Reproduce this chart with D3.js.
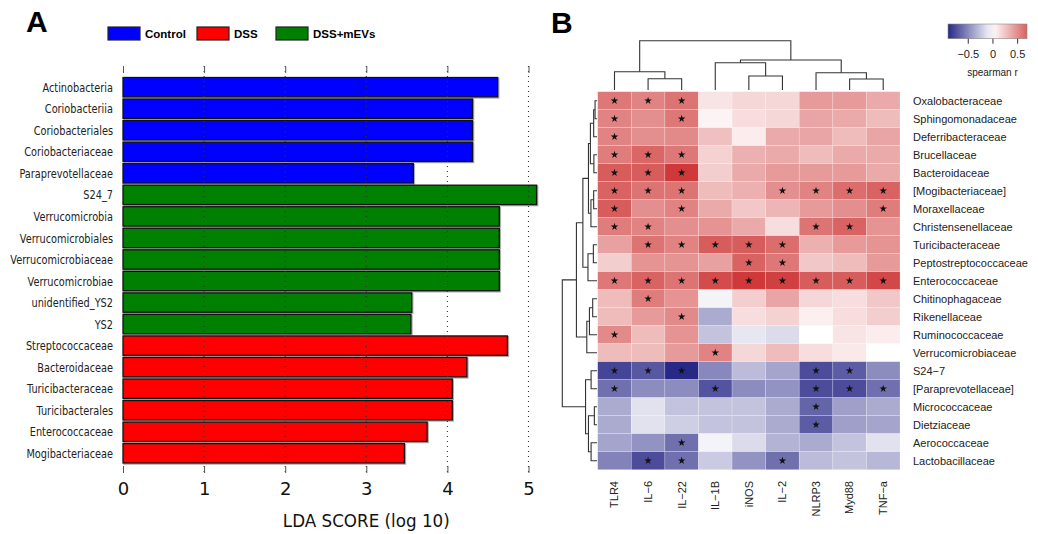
<!DOCTYPE html>
<html>
<head>
<meta charset="utf-8">
<script src="https://cdn.jsdelivr.net/npm/d3@7"></script>
<style>
body{margin:0;background:#fff;}
</style>
</head>
<body>
<div id="chart"></div>
<script>
// ---- panel A : LEfSe LDA scores ----
var ldaTaxa = ["Actinobacteria","Coriobacteriia","Coriobacteriales","Coriobacteriaceae","Paraprevotellaceae",
    "S24_7","Verrucomicrobia","Verrucomicrobiales","Verrucomicrobiaceae","Verrucomicrobiae","unidentified_YS2","YS2",
    "Streptococcaceae","Bacteroidaceae","Turicibacteraceae","Turicibacterales","Enterococcaceae","Mogibacteriaceae"];
var ldaScores = [4.62,4.31,4.31,4.31,3.58,5.10,4.64,4.64,4.64,4.64,3.56,3.55,4.74,4.24,4.06,4.06,3.75,3.47];
var ldaGroups = ["Control","Control","Control","Control","Control",
    "DSS+mEVs","DSS+mEVs","DSS+mEVs","DSS+mEVs","DSS+mEVs","DSS+mEVs","DSS+mEVs",
    "DSS","DSS","DSS","DSS","DSS","DSS"];
var groupNames = ["Control","DSS","DSS+mEVs"];
var groupColors = ["#0000ff","#ff0000","#008000"];
var ldaTicks = [0,1,2,3,4,5];

// ---- panel B : spearman heatmap ----
var families = ["Oxalobacteraceae","Sphingomonadaceae","Deferribacteraceae","Brucellaceae","Bacteroidaceae",
    "[Mogibacteriaceae]","Moraxellaceae","Christensenellaceae","Turicibacteraceae","Peptostreptococcaceae",
    "Enterococcaceae","Chitinophagaceae","Rikenellaceae","Ruminococcaceae","Verrucomicrobiaceae",
    "S24\u22127","[Paraprevotellaceae]","Micrococcaceae","Dietziaceae","Aerococcaceae","Lactobacillaceae"];
var markers = ["TLR4","IL\u22126","IL\u221222","IL\u22121B","iNOS","IL\u22122","NLRP3","Myd88","TNF\u2212a"];
var spearman = [
    [0.60,0.55,0.62,0.12,0.18,0.18,0.45,0.45,0.38],
    [0.55,0.50,0.60,0.05,0.15,0.18,0.40,0.38,0.30],
    [0.55,0.50,0.52,0.28,0.08,0.38,0.40,0.30,0.40],
    [0.58,0.68,0.60,0.20,0.35,0.38,0.30,0.38,0.38],
    [0.72,0.72,0.88,0.22,0.38,0.45,0.45,0.45,0.38],
    [0.70,0.62,0.62,0.30,0.35,0.50,0.55,0.65,0.70],
    [0.72,0.50,0.55,0.38,0.25,0.33,0.45,0.50,0.58],
    [0.58,0.55,0.50,0.48,0.38,0.15,0.62,0.70,0.48],
    [0.42,0.62,0.55,0.72,0.72,0.65,0.35,0.45,0.48],
    [0.22,0.48,0.48,0.42,0.70,0.60,0.25,0.30,0.45],
    [0.60,0.70,0.62,0.80,0.88,0.85,0.72,0.72,0.82],
    [0.30,0.58,0.48,-0.05,0.22,0.40,0.18,0.15,0.25],
    [0.30,0.45,0.52,-0.35,0.15,0.20,0.07,0.15,0.22],
    [0.52,0.30,0.48,-0.25,-0.10,-0.15,0.00,0.12,0.08],
    [0.30,0.30,0.45,0.55,0.18,0.30,0.15,0.10,0.00],
    [-0.78,-0.70,-0.90,-0.50,-0.28,-0.38,-0.75,-0.68,-0.48],
    [-0.60,-0.48,-0.48,-0.72,-0.48,-0.45,-0.75,-0.75,-0.60],
    [-0.35,-0.12,-0.25,-0.25,-0.25,-0.35,-0.65,-0.40,-0.35],
    [-0.35,-0.12,-0.20,-0.25,-0.25,-0.35,-0.68,-0.40,-0.38],
    [-0.38,-0.45,-0.60,-0.05,-0.15,-0.32,-0.35,-0.25,-0.12],
    [-0.52,-0.75,-0.60,-0.22,-0.45,-0.60,-0.28,-0.25,-0.30]
];
// 1 = significant (star)
var signif = ["111000000","101000000","100000000","111000000","111000000","111001111","101000001",
    "110000110","011111000","000011000","111111111","010000000","001000000","100000000","000100000",
    "111000110","100100111","000000100","000000100","001000000","011001000"];
// dendrograms: [height, left, right], leaves are row / column indexes
var rowTree = [1,
    [0.593,
        [0.407,
            [0.246, [0.19, [0.096, [0.056,0,1], 2], [0.09,3,4]], [0.175, [0.096,5,6], 7]],
            [0.26, [0.105,8,9], 10]],
        [0.294, [0.218, [0.124,11,12], 13], 14]],
    [0.33, [0.17,15,16], [0.246, [0.076,17,18], [0.17,19,20]]]];
var colTree = [1, [0.371, 0, [0.229,1,2]], [0.608, [0.554, 3, [0.284,4,5]], [0.351, 6, [0.223,7,8]]]];
var legendTicks = [-0.5,0,0.5];

var width = 1038, height = 534;
var svg = d3.select("#chart").append("svg")
    .attr("width",width)
    .attr("height",height)
    .style("font-family","'Liberation Sans', Arial, sans-serif");

// panel letters
svg.append("text").attr("x",26).attr("y",32).attr("font-size",30).attr("font-weight","bold").text("A");
svg.append("text").attr("x",551).attr("y",33).attr("font-size",30).attr("font-weight","bold").text("B");

// ===== panel A =====
var xA = d3.scaleLinear().domain([0,5]).range([123,528.5]);
var yA = d3.scaleBand().domain(ldaTaxa).range([77.5,463]).paddingInner(0.1);
var colorA = d3.scaleOrdinal().domain(groupNames).range(groupColors);

var legA = svg.append("g").selectAll("g")
    .data(groupNames)
    .enter().append("g")
    .attr("transform",(d,i)=>"translate("+[108,197,276][i]+",27)");
legA.append("rect").attr("width",32).attr("height",13)
    .attr("fill",d=>colorA(d)).attr("stroke","#222").attr("stroke-width",1.2);
legA.append("text").attr("x",37).attr("y",10.5).attr("font-size",11.5).attr("font-weight","bold").text(d=>d);

var bars = svg.append("g").selectAll("g")
    .data(ldaTaxa)
    .enter().append("g");
bars.append("rect")
    .attr("x",xA(0)+1).attr("y",d=>yA(d)+1)
    .attr("width",(d,i)=>xA(ldaScores[i])-xA(0))
    .attr("height",yA.bandwidth())
    .attr("fill","none").attr("stroke","#aaa").attr("stroke-width",1.5);
bars.append("rect")
    .attr("x",xA(0)).attr("y",d=>yA(d))
    .attr("width",(d,i)=>xA(ldaScores[i])-xA(0))
    .attr("height",yA.bandwidth())
    .attr("fill",(d,i)=>colorA(ldaGroups[i]))
    .attr("stroke","#111").attr("stroke-width",1.3);
// labels are squeezed sideways like the source figure
bars.append("text")
    .attr("transform",d=>"translate(113,"+(yA(d)+yA.bandwidth()/2)+")scale(0.75,1)")
    .attr("dy",".35em").attr("text-anchor","end")
    .attr("font-family","'DejaVu Sans',sans-serif")
    .attr("font-size",13).attr("fill","#222")
    .text(d=>d);

// dotted grid over the bars
svg.append("g").selectAll("line")
    .data(ldaTicks.slice(1))
    .enter().append("line")
    .attr("x1",d=>xA(d)).attr("x2",d=>xA(d))
    .attr("y1",66).attr("y2",472)
    .attr("stroke","#333").attr("stroke-width",1.1).attr("stroke-dasharray","1,4");

var axTop = svg.append("g").attr("transform","translate(0,73)")
    .call(d3.axisTop(xA).tickValues(ldaTicks).tickSize(7).tickFormat(""));
var axBot = svg.append("g").attr("transform","translate(0,466)")
    .call(d3.axisBottom(xA).tickValues(ldaTicks).tickSize(7).tickPadding(9).tickFormat(d3.format("d")));
[axTop,axBot].forEach(function(a){
    a.select(".domain").remove();
    a.selectAll(".tick line").attr("stroke","#555");
});
axBot.selectAll(".tick text")
    .attr("font-family","'DejaVu Sans',sans-serif")
    .attr("font-size",18).attr("fill","#111");
svg.append("text")
    .attr("transform","translate("+xA(3)+",527)scale(0.93,1)")
    .attr("text-anchor","middle")
    .attr("font-family","'DejaVu Sans',sans-serif").attr("font-size",18).attr("fill","#111")
    .text("LDA SCORE (log 10)");

// ===== panel B =====
var xB = d3.scaleBand().domain(d3.range(markers.length)).range([597.7,900]);
var yB = d3.scaleBand().domain(d3.range(families.length)).range([91.7,469.7]);
var color = d3.scaleLinear().domain([-1,0,1]).range(["#10107a","#ffffff","#c81e1e"]);

var rows = svg.append("g").selectAll("g")
    .data(spearman)
    .enter().append("g")
    .attr("transform",(d,i)=>"translate(0,"+yB(i)+")");
rows.selectAll("rect")
    .data(d=>d)
    .enter().append("rect")
    .attr("x",(d,j)=>xB(j))
    .attr("width",xB.bandwidth())
    .attr("height",yB.bandwidth())
    .attr("fill",d=>color(d))
    .attr("stroke","#fff").attr("stroke-opacity",0.35).attr("stroke-width",0.6);

var star = d3.symbol().type(d3.symbolStar).size(18);
rows.each(function(d,i){
    var flags = signif[i].split("");
    d3.select(this).selectAll("path")
        .data(flags.map((f,j)=>({f:f,j:j})).filter(e=>e.f==="1"))
        .enter().append("path")
        .attr("d",star)
        .attr("transform",e=>"translate("+(xB(e.j)+xB.bandwidth()/2)+","+(yB.bandwidth()/2)+")")
        .attr("fill","#111");
});

svg.append("g").selectAll("text")
    .data(families)
    .enter().append("text")
    .attr("x",913).attr("y",(d,i)=>yB(i)+yB.bandwidth()/2)
    .attr("dy",".35em").attr("font-size",11).attr("fill","#222")
    .text(d=>d);

svg.append("g").selectAll("text")
    .data(markers)
    .enter().append("text")
    .attr("transform",(d,i)=>"translate("+(xB(i)+xB.bandwidth()/2)+",481)rotate(-90)")
    .attr("dy",".35em").attr("text-anchor","end")
    .attr("font-size",11).attr("fill","#222")
    .text(d=>d);

// dendrograms
function treeRoot(t){
    var root = d3.hierarchy(t,d=>Array.isArray(d)?d.slice(1):null);
    root.eachAfter(function(n){
        n.h = Array.isArray(n.data)?n.data[0]:0;
        n.leafIndex = Array.isArray(n.data)?null:n.data;
    });
    return root;
}
function elbows(root,pos){
    root.eachAfter(function(n){
        n.p = n.children ? d3.mean(n.children,c=>c.p) : pos(n.leafIndex);
    });
    return root.descendants().filter(n=>n.children);
}

var rowDepth = d3.scaleLinear().domain([0,1]).range([597,562.3]);
var rRoot = treeRoot(rowTree);
var rNodes = elbows(rRoot,i=>yB(i)+yB.bandwidth()/2);
svg.append("g").selectAll("path")
    .data(rNodes)
    .enter().append("path")
    .attr("fill","none").attr("stroke","#333").attr("stroke-width",1.1)
    .attr("d",function(n){
        var a = n.children[0], b = n.children[1], x = rowDepth(n.h);
        return "M"+rowDepth(a.h)+","+a.p+"H"+x+"V"+b.p+"H"+rowDepth(b.h);
    });

var colDepth = d3.scaleLinear().domain([0,1]).range([90,40.7]);
var cRoot = treeRoot(colTree);
var cNodes = elbows(cRoot,i=>xB(i)+xB.bandwidth()/2);
svg.append("g").selectAll("path")
    .data(cNodes)
    .enter().append("path")
    .attr("fill","none").attr("stroke","#333").attr("stroke-width",1.1)
    .attr("d",function(n){
        var a = n.children[0], b = n.children[1], y = colDepth(n.h);
        return "M"+a.p+","+colDepth(a.h)+"V"+y+"H"+b.p+"V"+colDepth(b.h);
    });

// colour key
var keyScale = d3.scaleLinear().domain([-0.9,0.7]).range([948,1027]);
var grad = svg.append("defs").append("linearGradient").attr("id","keygrad");
grad.selectAll("stop")
    .data(d3.range(0,1.0001,0.1))
    .enter().append("stop")
    .attr("offset",d=>d)
    .attr("stop-color",d=>color(keyScale.domain()[0]+d*(keyScale.domain()[1]-keyScale.domain()[0])));
svg.append("rect").attr("x",948).attr("y",24).attr("width",79).attr("height",14.7)
    .attr("fill","url(#keygrad)").attr("stroke","#888").attr("stroke-width",0.6);
var keyAx = svg.append("g").attr("transform","translate(0,38.7)")
    .call(d3.axisBottom(keyScale).tickValues(legendTicks).tickSize(5).tickPadding(7)
        .tickFormat(d=>d===0?"0":d3.format(".1f")(d)));
keyAx.select(".domain").remove();
keyAx.selectAll(".tick line").attr("stroke","#333");
keyAx.selectAll(".tick text").attr("font-size",11).attr("fill","#222")
    .attr("font-family","'Liberation Sans', Arial, sans-serif");
svg.append("text").attr("x",keyScale(0)).attr("y",76).attr("text-anchor","middle")
    .attr("font-size",10).attr("fill","#222").text("spearman r");
</script>
</body>
</html>
